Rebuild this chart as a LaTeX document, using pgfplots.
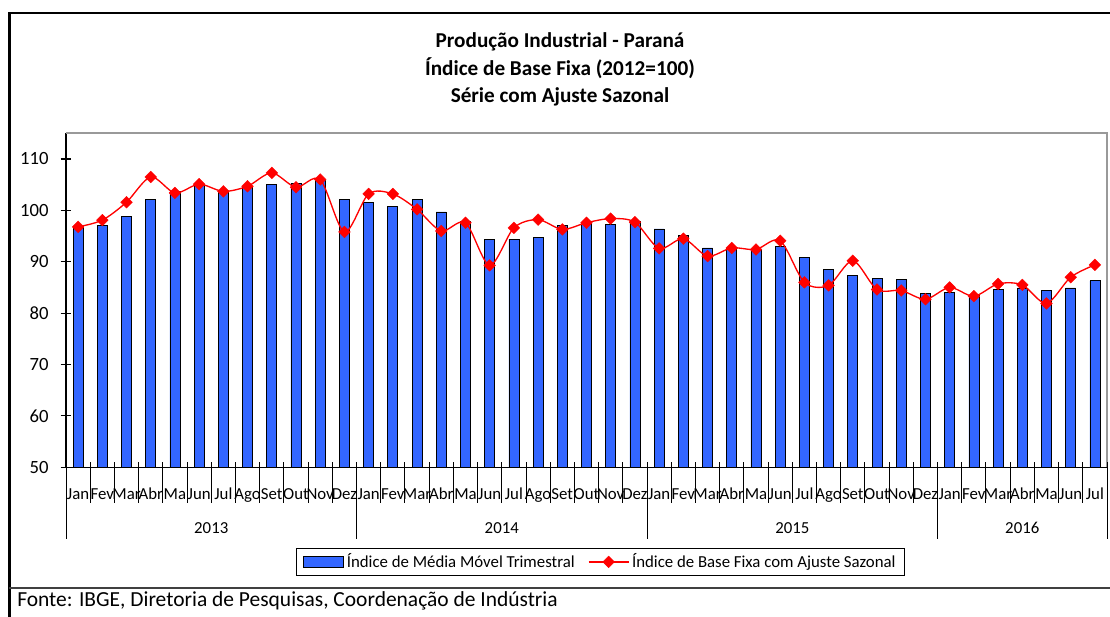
\documentclass[border=0pt]{standalone}
\usepackage{fontspec}
\setmainfont{Carlito}
\usepackage{pgfplots}
\pgfplotsset{compat=1.18}
\definecolor{barblue}{RGB}{51,102,255}
\pgfplotsset{
  mybarlegend/.style={legend image code/.code={\draw[fill=barblue,draw=black,line width=0.5pt] (0pt,-4.1pt) rectangle (30pt,4.1pt);}},
  mylinelegend/.style={legend image code/.code={\draw[mark repeat=2, mark phase=2, ##1] plot coordinates {(0pt,0pt) (15pt,0pt) (30pt,0pt)};}},
}
\pgfplotstableread{
idx bar line
0 96.8 96.8
1 97.0 98.1
2 98.9 101.6
3 102.1 106.5
4 103.7 103.4
5 105.0 105.1
6 103.7 103.7
7 104.5 104.7
8 105.1 107.3
9 105.3 104.5
10 105.8 106.0
11 102.1 95.8
12 101.6 103.2
13 100.8 103.2
14 102.1 100.2
15 99.7 96.0
16 97.9 97.6
17 94.4 89.3
18 94.4 96.6
19 94.7 98.2
20 97.0 96.3
21 97.5 97.6
22 97.3 98.4
23 97.9 97.7
24 96.4 92.6
25 95.1 94.5
26 92.7 91.1
27 92.7 92.7
28 92.4 92.4
29 93.0 94.1
30 90.9 86.0
31 88.5 85.4
32 87.3 90.2
33 86.8 84.6
34 86.5 84.4
35 83.8 82.7
36 84.1 85.0
37 83.5 83.3
38 84.7 85.7
39 84.9 85.5
40 84.4 81.9
41 84.9 87.0
42 86.3 89.4
}\datatable
\begin{document}
\begin{tikzpicture}[x=0.75pt,y=-0.75pt]
\useasboundingbox (0,0) rectangle (1110,617);
% outer frame
\draw[black, line width=2pt] (9.3,620) -- (9.3,13) -- (1112,13);
\draw[black!75, line width=1.9pt] (9.3,588) -- (1112,588);
% title
\node[anchor=base, font=\bfseries\fontsize{15.9}{18}\selectfont] at (560,48) {Produção Industrial - Paraná};
\node[anchor=base, font=\bfseries\fontsize{15.9}{18}\selectfont] at (560,75.3) {Índice de Base Fixa (2012=100)};
\node[anchor=base, font=\bfseries\fontsize{15.9}{18}\selectfont] at (560,102.7) {Série com Ajuste Sazonal};
% source
\node[anchor=base west, inner sep=0pt, font=\fontsize{16.1}{18}\selectfont] at (17,606.7) {Fonte: IBGE, Diretoria de Pesquisas, Coordenação de Indústria};
\begin{axis}[
  at={(49.5pt,-350.475pt)}, anchor=south west,
  scale only axis, width=780.75pt, height=250.5pt,
  xmin=-0.5, xmax=42.5, ymin=50, ymax=115,
  clip mode=individual,
  axis x line*=bottom, axis y line*=left,
  axis line style={black, line width=1pt},
  ytick={50,60,...,110},
  tick align=center, major tick length=8pt,
  ytick style={black, line width=0.8pt},
  /pgf/number format/assume math mode=true,
  yticklabel style={font=\fontsize{14}{14}\selectfont, xshift=-5.5pt},
  xtick={0,...,42}, xtick style={draw=none},
  xticklabels={Jan,Fev,Mar,Abr,Ma,Jun,Jul,Ago,Set,Out,Nov,Dez,Jan,Fev,Mar,Abr,Ma,Jun,Jul,Ago,Set,Out,Nov,Dez,Jan,Fev,Mar,Abr,Ma,Jun,Jul,Ago,Set,Out,Nov,Dez,Jan,Fev,Mar,Abr,Ma,Jun,Jul},
  xticklabel style={font=\fontsize{12.6}{13}\selectfont, anchor=base, yshift=-20.5pt, inner sep=0pt},
  legend columns=2,
  legend style={at={(0.5138,-0.2832)}, anchor=center, draw=black, line width=0.6pt,
    font=\fontsize{12.6}{14}\selectfont, inner xsep=5pt, inner ysep=2pt,
    /tikz/every even column/.append style={column sep=8pt}},
]
\addplot[ybar, bar width=7.5pt, fill=barblue, draw=black, line width=0.5pt, mybarlegend]
  table[x=idx, y=bar] {\datatable};
\addlegendentry{Índice de Média Móvel Trimestral}
\addplot[red, line width=1pt, smooth, tension=0.5, mark=square*, mark size=3.1pt,
  mark options={rotate=45, fill=red, draw=red, line width=0.3pt}, mylinelegend]
  table[x=idx, y=line] {\datatable};
\addlegendentry{Índice de Base Fixa com Ajuste Sazonal}
% plot area border (top, right)
\draw[black!40, line width=1.4pt] (rel axis cs:0,1) -- (rel axis cs:1,1) -- (rel axis cs:1,0);
% month boundary ticks
\pgfplotsinvokeforeach{0.5,1.5,...,41.5}{\draw[black, line width=0.7pt] ([yshift=3.75pt]axis cs:#1,50) -- ([yshift=-27pt]axis cs:#1,50);}
% year separators
\pgfplotsinvokeforeach{-0.5,11.5,23.5,35.5,42.5}{\draw[black, line width=0.7pt] ([yshift=3.75pt]axis cs:#1,50) -- ([yshift=-54pt]axis cs:#1,50);}
% year labels
\node[anchor=base, font=\fontsize{12.6}{13}\selectfont] at (axis cs:5.5,50) [yshift=-50pt] {2013};
\node[anchor=base, font=\fontsize{12.6}{13}\selectfont] at (axis cs:17.5,50) [yshift=-50pt] {2014};
\node[anchor=base, font=\fontsize{12.6}{13}\selectfont] at (axis cs:29.5,50) [yshift=-50pt] {2015};
\node[anchor=base, font=\fontsize{12.6}{13}\selectfont] at (axis cs:39,50) [yshift=-50pt] {2016};
\end{axis}
\end{tikzpicture}
\end{document}
